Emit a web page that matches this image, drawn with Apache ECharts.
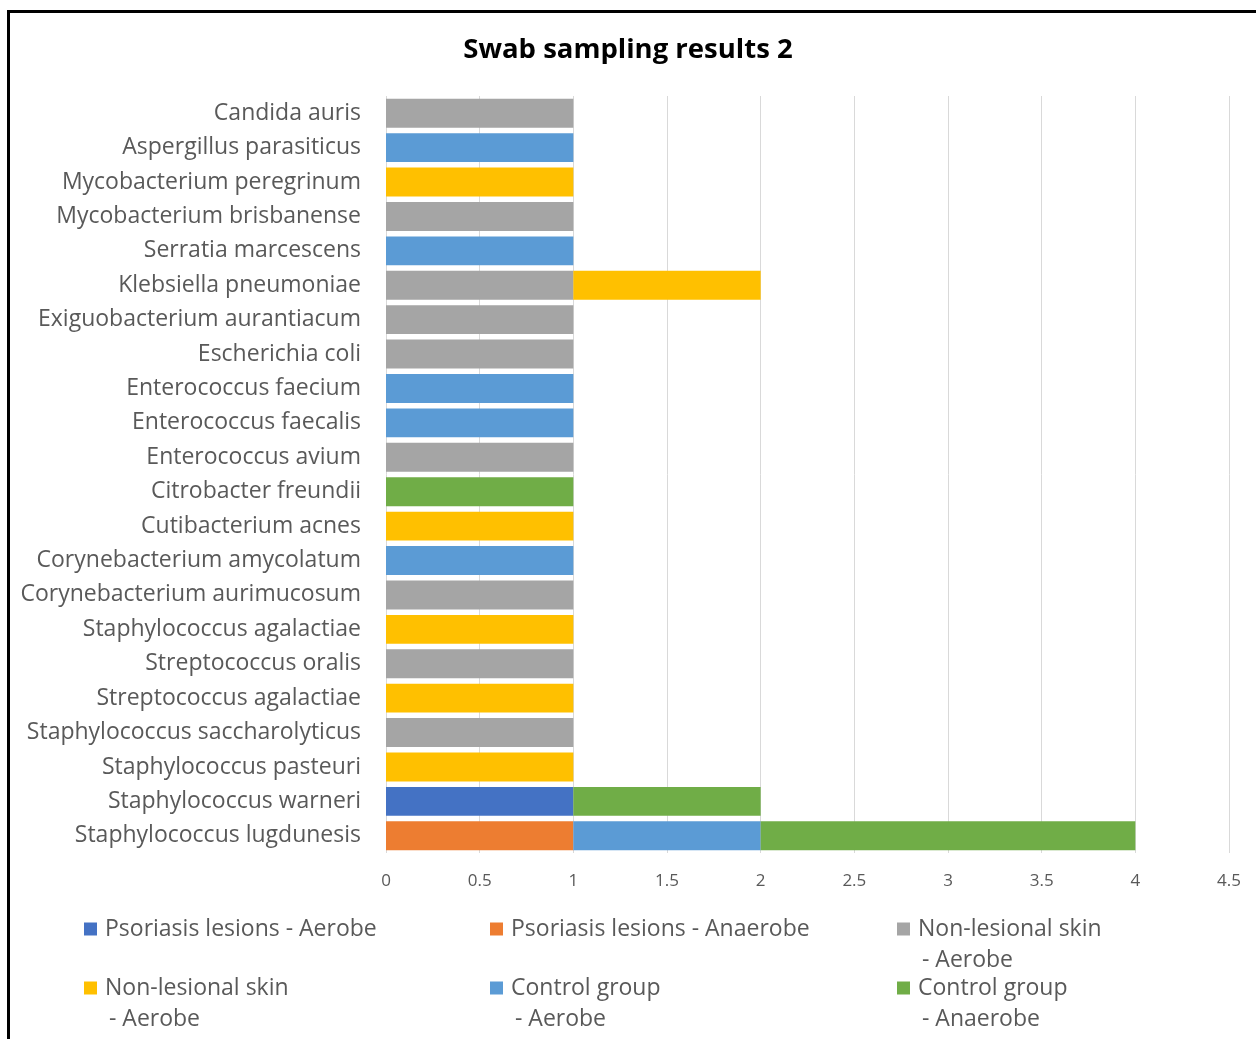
<!DOCTYPE html>
<html>
<head>
<meta charset="utf-8">
<script src="https://cdn.jsdelivr.net/npm/echarts@6/dist/echarts.min.js"></script>
<style>
  html, body { margin: 0; padding: 0; background: #fff; }
  #chart { width: 1256px; height: 1039px; }
</style>
</head>
<body>
<div id="chart"></div>
<script>
// Species, listed from the bottom row of the chart to the top row
const categories = [
  'Staphylococcus lugdunesis',
  'Staphylococcus warneri',
  'Staphylococcus pasteuri',
  'Staphylococcus saccharolyticus',
  'Streptococcus agalactiae',
  'Streptococcus oralis',
  'Staphylococcus agalactiae',
  'Corynebacterium aurimucosum',
  'Corynebacterium amycolatum',
  'Cutibacterium acnes',
  'Citrobacter freundii',
  'Enterococcus avium',
  'Enterococcus faecalis',
  'Enterococcus faecium',
  'Escherichia coli',
  'Exiguobacterium aurantiacum',
  'Klebsiella pneumoniae',
  'Serratia marcescens',
  'Mycobacterium brisbanense',
  'Mycobacterium peregrinum',
  'Aspergillus parasiticus',
  'Candida auris'
];

// Counts per group (same order as categories; null = not found)
const psoriasisAerobe     = [null, 1, null, null, null, null, null, null, null, null, null, null, null, null, null, null, null, null, null, null, null, null];
const psoriasisAnaerobe   = [1, null, null, null, null, null, null, null, null, null, null, null, null, null, null, null, null, null, null, null, null, null];
const nonLesionalAerobeA  = [null, null, null, 1, null, 1, null, 1, null, null, null, 1, null, null, 1, 1, 1, null, 1, null, null, 1];
const nonLesionalAerobeB  = [null, null, 1, null, 1, null, 1, null, null, 1, null, null, null, null, null, null, 1, null, null, 1, null, null];
const controlAerobe       = [1, null, null, null, null, null, null, null, 1, null, null, null, 1, 1, null, null, null, 1, null, null, 1, null];
const controlAnaerobe     = [2, 1, null, null, null, null, null, null, null, null, 1, null, null, null, null, null, null, null, null, null, null, null];

const xTicks = { min: 0, max: 4.5, interval: 0.5 };

// Legend text is split into a first line and an optional continuation line
const groups = [
  { id: 'psA', name: 'Psoriasis lesions - Aerobe',       line1: 'Psoriasis lesions - Aerobe',   line2: '',            data: psoriasisAerobe,    color: '#4472C4' },
  { id: 'psN', name: 'Psoriasis lesions - Anaerobe',     line1: 'Psoriasis lesions - Anaerobe', line2: '',            data: psoriasisAnaerobe,  color: '#ED7D31' },
  { id: 'nlA', name: 'Non-lesional skin - Aerobe',       line1: 'Non-lesional skin',            line2: ' - Aerobe',   data: nonLesionalAerobeA, color: '#A5A5A5' },
  { id: 'nlB', name: 'Non-lesional skin - Aerobe\u200b', line1: 'Non-lesional skin',            line2: ' - Aerobe',   data: nonLesionalAerobeB, color: '#FFC000' },
  { id: 'cgA', name: 'Control group - Aerobe',           line1: 'Control group',                line2: ' - Aerobe',   data: controlAerobe,      color: '#5B9BD5' },
  { id: 'cgN', name: 'Control group - Anaerobe',         line1: 'Control group',                line2: ' - Anaerobe', data: controlAnaerobe,    color: '#70AD47' }
];

const FONT = '"Open Sans", Lato, sans-serif';
const TEXT = '#595959';
const LEGEND_FONT = 23;
const LINE_H = 31;

// Legend placement: three columns, two rows (icon left edge, first-line centre)
const legendSlots = [
  { x: 84,  y: 929 }, { x: 490, y: 929 }, { x: 897, y: 929 },
  { x: 84,  y: 988 }, { x: 490, y: 988 }, { x: 897, y: 988 }
];
const ICON = 13;
const TEXT_GAP = 8;

const line1ByName = {};
groups.forEach(g => { line1ByName[g.name] = g.line1; });

// Continuation lines of the wrapped legend entries
const legendContinuations = groups
  .map((g, i) => ({ g, slot: legendSlots[i] }))
  .filter(o => o.g.line2)
  .map(o => ({
    type: 'text',
    x: o.slot.x + ICON + TEXT_GAP - 2,
    y: o.slot.y + LINE_H,
    style: {
      text: o.g.line2,
      fontFamily: FONT,
      fontSize: LEGEND_FONT,
      fill: TEXT,
      verticalAlign: 'middle'
    }
  }));

const chart = echarts.init(document.getElementById('chart'), null, { renderer: 'canvas' });

chart.setOption({
  backgroundColor: '#ffffff',
  animation: false,
  title: {
    text: 'Swab sampling results 2',
    left: 'center',
    top: 31,
    textStyle: { fontFamily: FONT, fontSize: 27.5, fontWeight: 'bold', color: '#000' }
  },
  graphic: [
    { type: 'rect', shape: { x: 7, y: 10, width: 1256, height: 3 }, style: { fill: '#000' } },
    { type: 'rect', shape: { x: 7, y: 10, width: 3, height: 1040 }, style: { fill: '#000' } }
  ].concat(legendContinuations),
  legend: groups.map((g, i) => ({
    data: [g.name],
    left: legendSlots[i].x - 5,
    top: legendSlots[i].y - 5 - LINE_H / 2,
    itemWidth: ICON,
    itemHeight: ICON,
    itemGap: 0,
    icon: 'rect',
    selectedMode: false,
    formatter: name => line1ByName[name],
    textStyle: {
      fontFamily: FONT, fontSize: LEGEND_FONT, color: TEXT, lineHeight: LINE_H,
      padding: [0, 0, 0, TEXT_GAP - 5]
    }
  })),
  grid: { left: 386, right: 27, top: 96, bottom: 186, containLabel: false },
  xAxis: {
    type: 'value',
    min: xTicks.min,
    max: xTicks.max,
    interval: xTicks.interval,
    axisLine: { show: false },
    axisTick: { show: false },
    axisLabel: { color: TEXT, fontFamily: FONT, fontSize: 17, margin: 20 },
    splitLine: { show: true, lineStyle: { color: '#D9D9D9', width: 1 } }
  },
  yAxis: {
    type: 'category',
    data: categories,
    axisLine: { show: false },
    axisTick: { show: false },
    axisLabel: { color: TEXT, fontFamily: FONT, fontSize: 23, margin: 25, padding: [8, 0, 0, 0] }
  },
  series: groups.map(g => ({
    id: g.id,
    name: g.name,
    type: 'bar',
    stack: 'total',
    data: g.data,
    barCategoryGap: '16%',
    itemStyle: { color: g.color }
  }))
});
</script>
</body>
</html>
